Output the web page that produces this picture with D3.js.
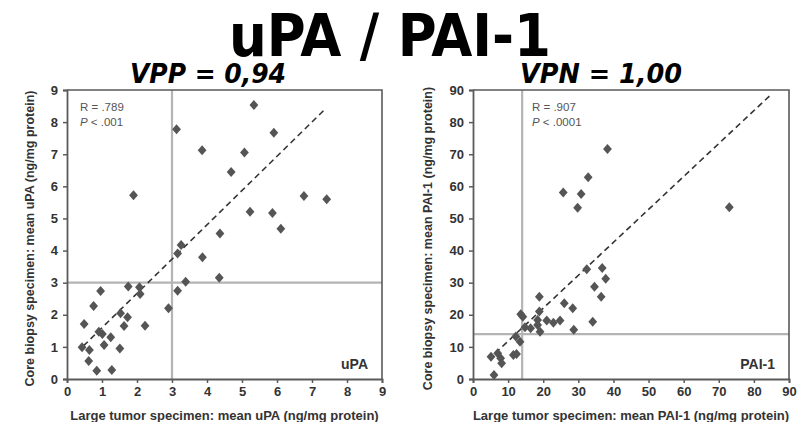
<!DOCTYPE html>
<html>
<head>
<meta charset="utf-8">
<script src="https://cdn.jsdelivr.net/npm/d3@7"></script>
<style>
	body { margin: 0; background: #fff; }
	text { font-family: "Liberation Sans", Arial, sans-serif; }
</style>
</head>
<body>
<svg id="chart" width="800" height="422"></svg>
<script>
// uPA panel: large tumor (x) vs core biopsy (y)
var upaX = [0.43, 0.49, 0.64, 0.62, 0.76, 0.85, 0.96, 0.91, 1.01, 1.06, 1.25, 1.28, 1.51, 1.53, 1.63, 1.73, 1.75, 2.07, 2.09, 2.23, 2.90, 3.16, 3.16, 3.26, 3.39, 1.90, 3.13, 5.34, 5.91, 3.86, 5.07, 4.69, 6.77, 7.42, 5.23, 5.87, 6.11, 4.37, 3.87, 4.35];
var upaY = [0.99, 1.71, 0.90, 0.56, 2.27, 0.26, 2.74, 1.47, 1.40, 1.06, 1.30, 0.28, 0.95, 2.05, 1.65, 1.92, 2.88, 2.86, 2.65, 1.66, 2.20, 2.75, 3.91, 4.17, 3.03, 5.72, 7.78, 8.53, 7.67, 7.12, 7.05, 6.45, 5.70, 5.60, 5.21, 5.17, 4.68, 4.53, 3.79, 3.15];
var upaFit = [[0.47, 1.03], [7.37, 8.40]];
var upaCut = 3;
var upaTicks = [0, 1, 2, 3, 4, 5, 6, 7, 8, 9];

// PAI-1 panel
var paiX = [5.98, 5.13, 7.03, 7.88, 8.16, 11.5, 12.4, 12.2, 13.4, 13.6, 14.2, 14.8, 16.4, 18.4, 18.4, 18.9, 18.9, 19.1, 21.0, 22.9, 24.8, 26.0, 28.4, 28.7, 32.4, 34.1, 34.6, 36.5, 36.8, 37.8, 25.7, 30.8, 32.8, 29.8, 38.3, 73.0];
var paiY = [1.25, 6.95, 8.0, 6.44, 4.88, 7.47, 7.79, 13.2, 11.6, 20.2, 19.4, 16.1, 15.8, 18.4, 16.8, 25.6, 21.0, 14.7, 18.2, 17.5, 18.2, 23.6, 22.0, 15.3, 34.2, 17.8, 28.7, 25.6, 34.6, 31.2, 58.1, 57.6, 62.8, 53.3, 71.6, 53.5];
var paiFit = [[6.3, 8.0], [85.1, 88.8]];
var paiCut = 14;
var paiTicks = [0, 10, 20, 30, 40, 50, 60, 70, 80, 90];

var svg = d3.select("#chart");

// diamond marker
var diamond = {
	draw: function(ctx, size) {
		var w = 4.4, h = 5;
		ctx.moveTo(0, -h);
		ctx.lineTo(w, 0);
		ctx.lineTo(0, h);
		ctx.lineTo(-w, 0);
		ctx.closePath();
	}
};

function panel(opt) {
	var x = d3.scaleLinear().domain([0, opt.max]).range([opt.x0, opt.x1]);
	var y = d3.scaleLinear().domain([0, opt.max]).range([379, 90]);
	var g = svg.append("g");

	// grey cut-off lines
	g.append("line")
		.attr("x1", x(opt.cut)).attr("x2", x(opt.cut))
		.attr("y1", y(0)).attr("y2", y(opt.max))
		.style("stroke", "#b4b4b4").style("stroke-width", 2.2);
	g.append("line")
		.attr("x1", x(0)).attr("x2", x(opt.max))
		.attr("y1", y(opt.cut)).attr("y2", y(opt.cut))
		.style("stroke", "#b4b4b4").style("stroke-width", 2.2);

	// frame (top & right)
	g.append("path")
		.attr("d", "M" + x(0) + "," + y(opt.max) + "H" + x(opt.max) + "V" + y(0))
		.style("fill", "none").style("stroke", "#5a5a5a").style("stroke-width", 1.6);

	var xAxis = g.append("g")
		.attr("transform", "translate(0," + y(0) + ")")
		.call(d3.axisBottom(x).tickValues(opt.ticks).tickSize(4).tickPadding(4));
	var yAxis = g.append("g")
		.attr("transform", "translate(" + x(0) + ",0)")
		.call(d3.axisLeft(y).tickValues(opt.ticks).tickSize(4).tickPadding(5));

	[xAxis, yAxis].forEach(function(a) {
		a.select(".domain").style("stroke", "#5a5a5a").style("stroke-width", 1.8);
		a.selectAll(".tick line").style("stroke", "#5a5a5a").style("stroke-width", 1.5);
		a.selectAll(".tick text")
			.style("font-family", "Liberation Sans, Arial, sans-serif")
			.style("font-size", "13px").style("font-weight", "bold").style("fill", "#333");
	});

	// regression line
	g.append("line")
		.attr("x1", x(opt.fit[0][0])).attr("y1", y(opt.fit[0][1]))
		.attr("x2", x(opt.fit[1][0])).attr("y2", y(opt.fit[1][1]))
		.style("stroke", "#333").style("stroke-width", 1.6)
		.style("stroke-dasharray", "6,4");

	// points
	var pts = opt.xs.map(function(v, i) { return [v, opt.ys[i]]; });
	g.selectAll("path.pt")
		.data(pts)
		.enter()
		.append("path")
		.attr("class", "pt")
		.attr("d", d3.symbol().type(diamond))
		.attr("transform", d => "translate(" + x(d[0]) + "," + y(d[1]) + ")")
		.style("fill", "#555");

	// R / P annotation
	var ann = g.append("text")
		.attr("x", opt.annX).attr("y", 111)
		.style("font-size", "11.5px").style("fill", "#555");
	ann.append("tspan").text(opt.rText);
	var ann2 = g.append("text")
		.attr("x", opt.annX).attr("y", 126)
		.style("font-size", "11.5px").style("fill", "#555");
	ann2.append("tspan").style("font-style", "italic").text("P");
	ann2.append("tspan").text(opt.pText);

	// panel label
	g.append("text")
		.attr("x", x(opt.max) - 14).attr("y", 369)
		.attr("text-anchor", "end")
		.style("font-size", "14px").style("font-weight", "bold").style("fill", "#333")
		.text(opt.label);

	// axis titles
	g.append("text")
		.attr("x", (opt.x0 + opt.x1) / 2).attr("y", 420)
		.attr("text-anchor", "middle")
		.style("font-size", "13px").style("font-weight", "bold").style("fill", "#333")
		.text(opt.xTitle);
	g.append("text")
		.attr("transform", "translate(" + opt.yTitleX + "," + ((379 + 90) / 2 + 4) + ") rotate(-90)")
		.attr("text-anchor", "middle")
		.style("font-size", "12.5px").style("font-weight", "bold").style("fill", "#333")
		.text(opt.yTitle);
}

panel({
	x0: 67, x1: 382, max: 9, ticks: upaTicks, cut: upaCut, fit: upaFit,
	xs: upaX, ys: upaY, annX: 80, rText: "R = .789", pText: " < .001",
	label: "uPA", yTitleX: 34,
	xTitle: "Large tumor specimen: mean uPA (ng/mg protein)",
	yTitle: "Core biopsy specimen: mean uPA (ng/mg protein)"
});

panel({
	x0: 473, x1: 789, max: 90, ticks: paiTicks, cut: paiCut, fit: paiFit,
	xs: paiX, ys: paiY, annX: 532, rText: "R =  .907", pText: " <  .0001",
	label: "PAI-1", yTitleX: 432,
	xTitle: "Large tumor specimen: mean PAI-1 (ng/mg protein)",
	yTitle: "Core biopsy specimen: mean PAI-1 (ng/mg protein)"
});

// titles
svg.append("text")
	.attr("x", 390).attr("y", 56)
	.attr("text-anchor", "middle")
	.attr("textLength", 322).attr("lengthAdjust", "spacingAndGlyphs")
	.style("font-family", "DejaVu Sans Condensed, DejaVu Sans, sans-serif")
	.style("font-size", "58px").style("font-weight", "bold").style("fill", "#000")
	.text("uPA / PAI-1");

svg.append("text")
	.attr("x", 208).attr("y", 83)
	.attr("text-anchor", "middle")
	.attr("textLength", 156).attr("lengthAdjust", "spacingAndGlyphs")
	.style("font-family", "DejaVu Sans Condensed, DejaVu Sans, sans-serif")
	.style("font-size", "27px").style("font-weight", "bold").style("font-style", "italic")
	.text("VPP = 0,94");

svg.append("text")
	.attr("x", 601).attr("y", 83)
	.attr("text-anchor", "middle")
	.attr("textLength", 162).attr("lengthAdjust", "spacingAndGlyphs")
	.style("font-family", "DejaVu Sans Condensed, DejaVu Sans, sans-serif")
	.style("font-size", "27px").style("font-weight", "bold").style("font-style", "italic")
	.text("VPN = 1,00");
</script>
</body>
</html>
